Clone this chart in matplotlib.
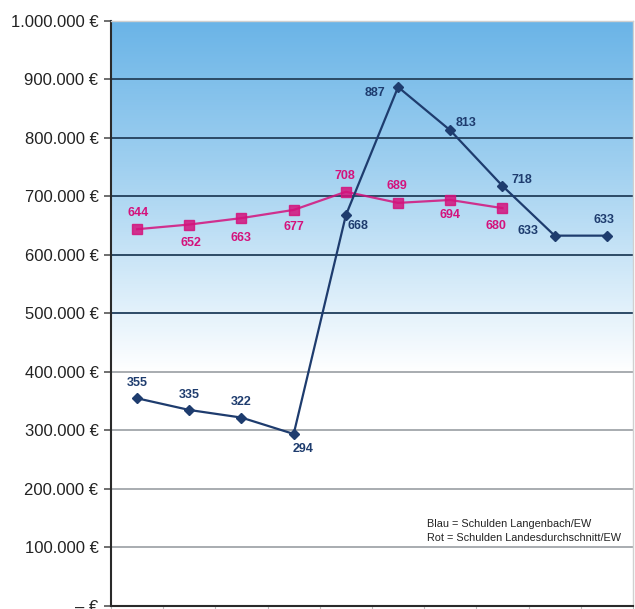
import numpy as np
import matplotlib.pyplot as plt
from matplotlib.colors import LinearSegmentedColormap
from matplotlib.ticker import FuncFormatter

# Werte in Tausend Euro je Einwohner
blau = [355, 335, 322, 294, 668, 887, 813, 718, 633, 633]
rot = [644, 652, 663, 677, 708, 689, 694, 680]

# Position der Beschriftung je Punkt (dx, dy in Punkten)
blau_off = [(0, 11), (0, 11), (0, 11), (7, -11), (9, -8), (-17, -4), (11.5, 5), (14, 4), (-19, 3), (-2, 11)]
rot_off = [(1, 11.5), (1, -13), (0, -14), (0, -12), (-1, 11.5), (-1, 12), (0, -11), (-5, -13)]

BLAU = '#1e3c6e'
ROT = '#d4127c'
font = ['Liberation Sans', 'DejaVu Sans']

fig = plt.figure(figsize=(6.35, 6.09), dpi=100)
ax = fig.add_axes([0.1748, 0.005, 0.822, 0.9606])
ax.set_xlim(-0.5, 9.5)
ax.set_ylim(0, 1000000)

# Hintergrund-Verlauf: blau oben, weiss unten
cmap = LinearSegmentedColormap.from_list('bg', [
    (0.0, '#ffffff'), (0.40, '#ffffff'), (0.55, '#d6ebf9'),
    (0.75, '#a0d0f0'), (1.0, '#6ab4e7')])
grad = np.linspace(0, 1, 256).reshape(-1, 1)
ax.imshow(grad, cmap=cmap, aspect='auto', origin='lower',
          extent=(-0.5, 9.5, 0, 1000000), zorder=0)

# Gitterlinien: dunkel im blauen Bereich, grau unten
for v in range(100000, 1000001, 100000):
    c = '#2c4a66' if v >= 500000 else '#a8acb0'
    ax.axhline(v, color=c, lw=1.4, zorder=1)

x = np.arange(len(blau))
ax.plot(x, np.array(blau) * 1000, color=BLAU, lw=1.6, marker='D', ms=5, zorder=4)
ax.plot(x[:len(rot)], np.array(rot) * 1000, color=ROT, lw=1.6, marker='s', ms=7,
        alpha=0.85, zorder=3)

for i, v in enumerate(blau):
    ax.annotate(str(v), (i, v * 1000), xytext=blau_off[i], textcoords='offset points',
                ha='center', va='center', color=BLAU, fontsize=9, fontweight='bold',
                family=font, zorder=5)
for i, v in enumerate(rot):
    ax.annotate(str(v), (i, v * 1000), xytext=rot_off[i], textcoords='offset points',
                ha='center', va='center', color=ROT, fontsize=9, fontweight='bold',
                family=font, zorder=5)

def euro(v, pos):
    if v == 0:
        return '– €'
    return f'{int(v):,} €'.replace(',', '.')

ax.set_yticks(range(0, 1000001, 100000))
ax.yaxis.set_major_formatter(FuncFormatter(euro))
ax.tick_params(axis='y', length=5, width=1.2, color='#555555', labelsize=12, pad=4)
for lab in ax.get_yticklabels():
    lab.set_family(font)
    lab.set_color('#222222')
ax.set_xticks(np.arange(-0.5, 9.6, 1))
ax.set_xticklabels([])
ax.tick_params(axis='x', length=3, color='#bbbbbb')

for s in ['left', 'bottom']:
    ax.spines[s].set_color('#2a2a2a')
    ax.spines[s].set_linewidth(1.5)
for s in ['top', 'right']:
    ax.spines[s].set_color('#d0d0d0')
    ax.spines[s].set_linewidth(1.0)

ax.text(0.605, 0.128, 'Blau = Schulden Langenbach/EW\nRot = Schulden Landesdurchschnitt/EW',
        transform=ax.transAxes, fontsize=7.8, family=font, color='#222222',
        va='center', ha='left', linespacing=1.6, zorder=5)

fig.savefig('out.png', dpi=100)
